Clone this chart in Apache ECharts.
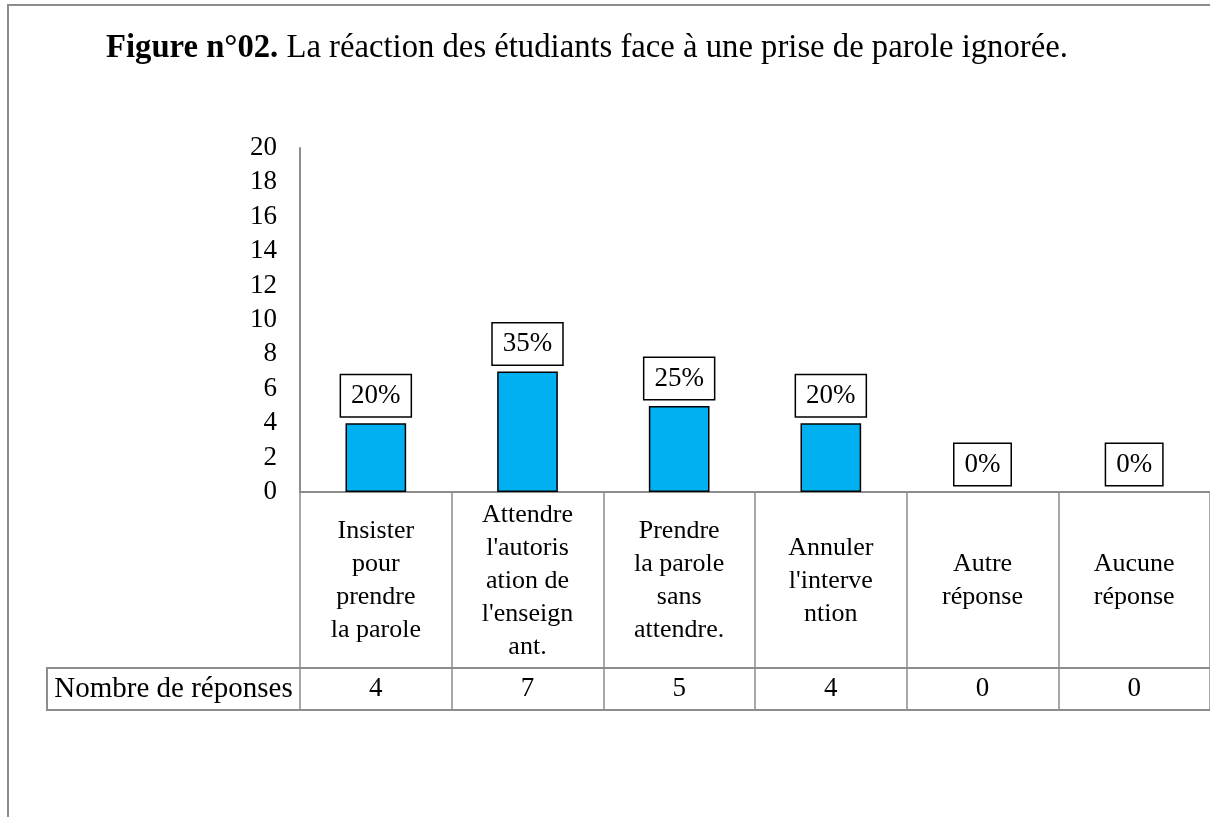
<!DOCTYPE html>
<html>
<head>
<meta charset="UTF-8">
<title>Figure n°02</title>
<script type="text/javascript" src="https://cdn.jsdelivr.net/npm/echarts@6/dist/echarts.min.js"></script>
<style>
  html, body { margin: 0; padding: 0; background: #fff; }
</style>
</head>
<body>
<div id="main" style="width:1210px;height:817px"></div>
<script type="text/javascript">
// données
var categories = [
  "Insister\npour\nprendre\nla parole",
  "Attendre\nl'autoris\nation de\nl'enseign\nant.",
  "Prendre\nla parole\nsans\nattendre.",
  "Annuler\nl'interve\nntion",
  "Autre\nréponse",
  "Aucune\nréponse"
];
var reponses = [4, 7, 5, 4, 0, 0];
var pourcentages = ["20%", "35%", "25%", "20%", "0%", "0%"];
var yTicks = [0, 20, 2]; // min, max, pas

var FONT = "'Liberation Serif', 'Times New Roman', serif";
var GRAY = '#8c8c8c';
// mise en page
var gridLeft = 300, gridTop = 148, axisY = 492;
var labelRowH = 176, valueRowH = 42, tableLeft = 47;

var myChart = echarts.init(document.getElementById('main'));

// pas de contour pour les barres nulles
var barData = reponses.map(function (v) {
  return v === 0 ? { value: v, itemStyle: { borderWidth: 0 } } : v;
});

var option = {
  animation: false,
  backgroundColor: '#fff',
  title: {
    text: '{b|Figure n°02.} La réaction des étudiants face à une prise de parole ignorée.',
    left: 101,
    top: 27,
    textStyle: {
      fontFamily: FONT,
      fontSize: 32.7,
      fontWeight: 'normal',
      color: '#000',
      rich: {
        b: { fontFamily: FONT, fontSize: 32.7, fontWeight: 'bold', color: '#000' }
      }
    }
  },
  grid: {
    left: gridLeft,
    right: 0,
    top: gridTop,
    bottom: 817 - axisY
  },
  xAxis: [
    {
      type: 'category',
      data: categories,
      axisLine: { lineStyle: { color: GRAY, width: 2 } },
      axisTick: {
        show: true,
        interval: 0,
        length: labelRowH + valueRowH,
        lineStyle: { color: GRAY, width: 1.5 }
      },
      axisLabel: {
        interval: 0,
        margin: labelRowH / 2 + 1,
        verticalAlign: 'middle',
        color: '#000',
        fontFamily: FONT,
        fontSize: 26,
        lineHeight: 33
      }
    },
    {
      type: 'category',
      data: categories,
      position: 'bottom',
      offset: labelRowH,
      axisLine: { lineStyle: { color: GRAY, width: 2 } },
      axisTick: { show: false },
      axisLabel: {
        interval: 0,
        margin: valueRowH / 2,
        verticalAlign: 'middle',
        color: '#000',
        fontFamily: FONT,
        fontSize: 27,
        formatter: function (v, i) { return String(reponses[i]); }
      }
    }
  ],
  yAxis: {
    type: 'value',
    min: yTicks[0],
    max: yTicks[1],
    interval: yTicks[2],
    axisLine: { show: true, lineStyle: { color: GRAY, width: 2 } },
    axisTick: { show: false },
    splitLine: { show: false },
    axisLabel: {
      margin: 23,
      color: '#000',
      fontFamily: FONT,
      fontSize: 27
    }
  },
  series: [
    {
      name: 'Nombre de réponses',
      type: 'bar',
      xAxisIndex: 0,
      barWidth: '40%',
      data: barData,
      itemStyle: { color: '#00B0F0', borderColor: '#000', borderWidth: 1.5 },
      label: {
        show: true,
        position: 'top',
        distance: 7,
        formatter: function (p) { return pourcentages[p.dataIndex]; },
        color: '#000',
        fontFamily: FONT,
        fontSize: 27,
        lineHeight: 29,
        backgroundColor: '#fff',
        borderColor: '#000',
        borderWidth: 1.5,
        padding: [6, 10, 6, 10]
      }
    }
  ],
  graphic: [
    // cadre
    {
      type: 'polyline',
      shape: { points: [[8, 817], [8, 5], [1212, 5]] },
      style: { stroke: GRAY, lineWidth: 2, fill: null }
    },
    // case « Nombre de réponses » et bas du tableau
    {
      type: 'rect',
      shape: { x: tableLeft, y: axisY + labelRowH, width: 1200, height: valueRowH },
      style: { stroke: GRAY, lineWidth: 2, fill: null }
    },
    {
      type: 'text',
      x: (tableLeft + gridLeft) / 2,
      y: axisY + labelRowH + valueRowH / 2,
      style: {
        text: 'Nombre de réponses',
        fontFamily: FONT,
        fontSize: 29,
        fill: '#000',
        align: 'center',
        verticalAlign: 'middle'
      }
    }
  ]
};

myChart.setOption(option);
</script>
</body>
</html>
